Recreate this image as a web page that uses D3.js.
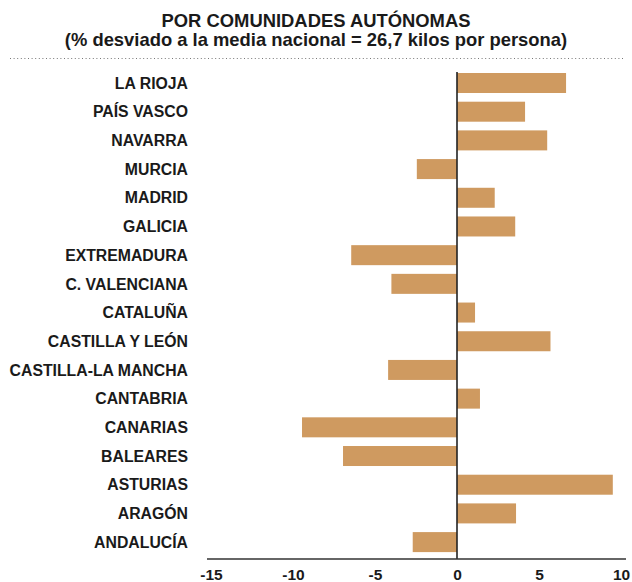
<!DOCTYPE html>
<html>
<head>
<meta charset="utf-8">
<script src="https://cdn.jsdelivr.net/npm/d3@7"></script>
<style>
  html, body { margin: 0; padding: 0; background: #fff; }
  svg { display: block; }
  text { font-family: "Liberation Sans", Arial, Helvetica, sans-serif; font-weight: bold; fill: #1a1a1a; }
</style>
</head>
<body>
<svg id="chart" width="632" height="582"></svg>
<script>
const categories = ["LA RIOJA", "PAÍS VASCO", "NAVARRA", "MURCIA", "MADRID", "GALICIA",
  "EXTREMADURA", "C. VALENCIANA", "CATALUÑA", "CASTILLA Y LEÓN", "CASTILLA-LA MANCHA",
  "CANTABRIA", "CANARIAS", "BALEARES", "ASTURIAS", "ARAGÓN", "ANDALUCÍA"];
const values = [6.65, 4.15, 5.5, -2.45, 2.3, 3.55, -6.45, -4.0, 1.1, 5.7, -4.2,
  1.4, -9.45, -6.95, 9.5, 3.6, -2.7];
const tickValues = [-15, -10, -5, 0, 5, 10];
const titleLines = ["POR COMUNIDADES AUTÓNOMAS", "(% desviado a la media nacional = 26,7 kilos por persona)"];

const svg = d3.select("#chart");

// Title
svg.append("text").attr("x", 316).attr("y", 27).attr("text-anchor", "middle")
  .style("font-size", "18.4px").text(titleLines[0]);
svg.append("text").attr("x", 316).attr("y", 46).attr("text-anchor", "middle")
  .style("font-size", "18.4px").text(titleLines[1]);
svg.append("line").attr("x1", 10).attr("x2", 625).attr("y1", 58.5).attr("y2", 58.5)
  .attr("stroke", "#777").attr("stroke-width", 1).attr("stroke-dasharray", "1,2.6");

const x = d3.scaleLinear().domain([-15, 10]).range([211, 621]);
const y = d3.scaleBand().domain(categories).range([68.7, 556.4])
  .paddingInner(0.303).paddingOuter(0.15);

// Bars
svg.append("g").selectAll("rect").data(categories).join("rect")
  .attr("x", (d, i) => x(Math.min(0, values[i])))
  .attr("width", (d, i) => Math.abs(x(values[i]) - x(0)))
  .attr("y", d => y(d))
  .attr("height", y.bandwidth())
  .attr("fill", "#CF9A60");

// Category labels
svg.append("g").selectAll("text").data(categories).join("text")
  .attr("x", 188)
  .attr("y", d => y(d) + y.bandwidth() / 2)
  .attr("dy", "0.36em")
  .attr("text-anchor", "end")
  .style("font-size", "15.8px")
  .text(d => d);

// Zero line
svg.append("line").attr("x1", x(0)).attr("x2", x(0)).attr("y1", 72).attr("y2", 559)
  .attr("stroke", "#222").attr("stroke-width", 1.6);

// X axis
const axis = d3.axisBottom(x).tickValues(tickValues).tickSize(0).tickPadding(10)
  .tickFormat(d3.format("d"));
const gx = svg.append("g").attr("transform", "translate(0,559)").call(axis);
gx.select(".domain").remove();
gx.append("line").attr("x1", 207).attr("x2", 626).attr("y1", 0).attr("y2", 0)
  .attr("stroke", "#333").attr("stroke-width", 1.6);
gx.selectAll(".tick text")
  .style("font-family", "'Liberation Sans', Arial, sans-serif")
  .style("font-weight", "bold").style("font-size", "15.5px").attr("fill", "#1a1a1a")
  .text(d => d < 0 ? "-" + Math.abs(d) : d);
</script>
</body>
</html>
